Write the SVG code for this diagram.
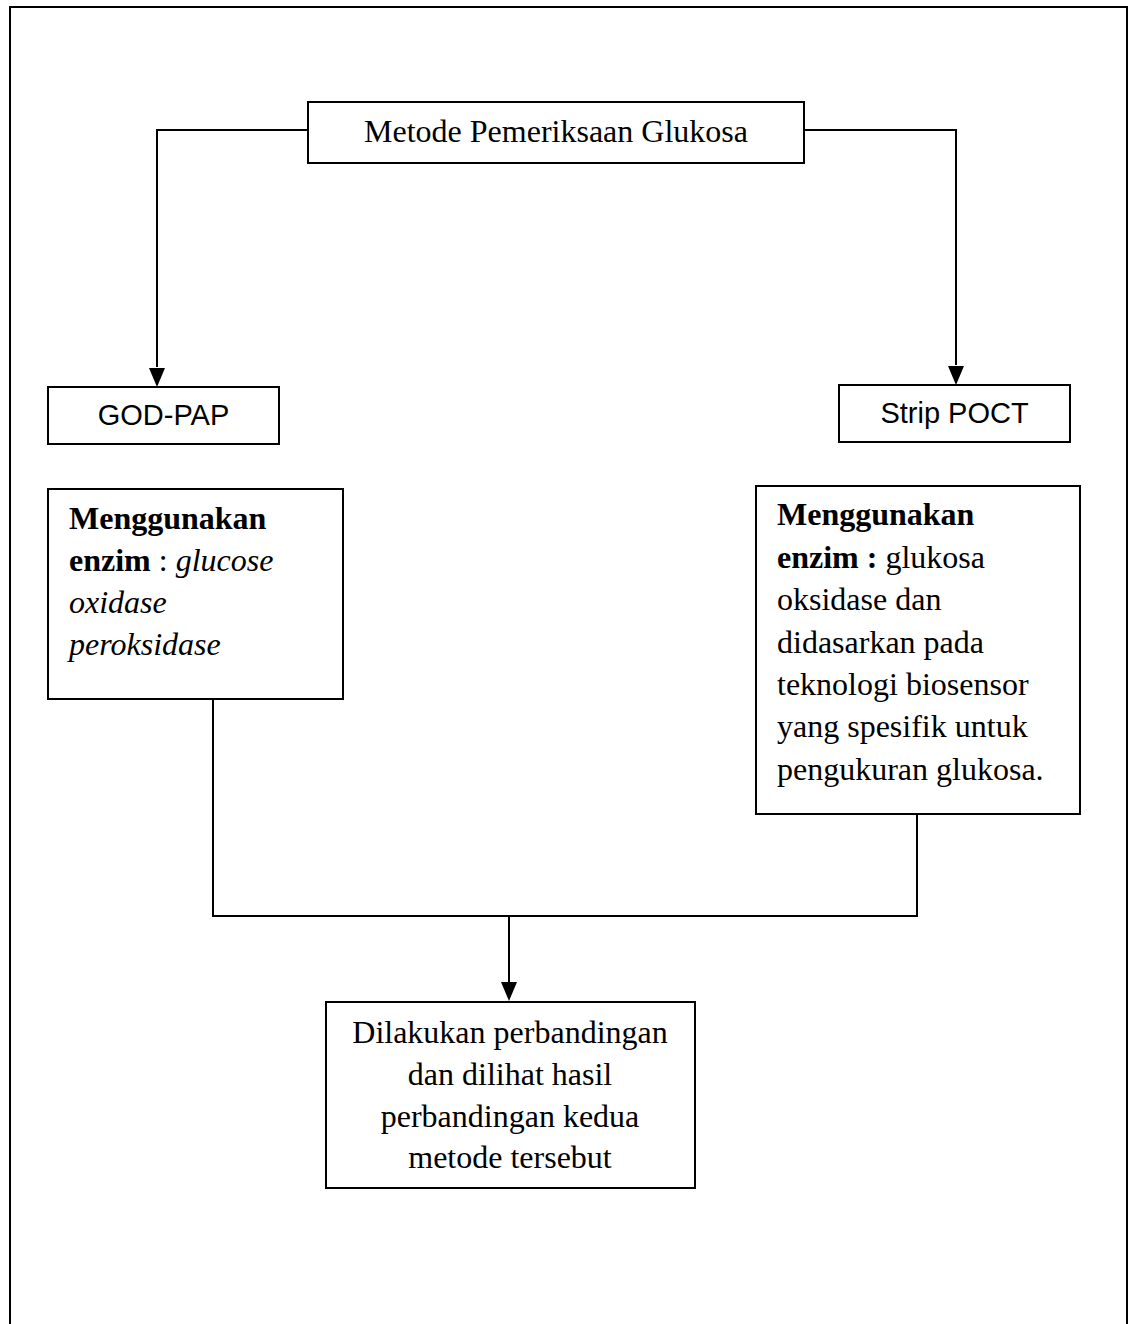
<svg xmlns="http://www.w3.org/2000/svg" width="1130" height="1324" viewBox="0 0 1130 1324">
<style>
.box{fill:#fff;stroke:#000;stroke-width:2}
.ln{fill:none;stroke:#000;stroke-width:2}
.tnr{font-family:"Liberation Serif","Times New Roman",serif;font-size:32px;fill:#000}
.ar{font-family:"Liberation Sans",Arial,sans-serif;font-size:29px;fill:#000}
</style>
<defs>
<marker id="ah" markerUnits="userSpaceOnUse" markerWidth="16" markerHeight="20" viewBox="0 0 16 20" refX="8" refY="20" orient="auto-start-reverse">
<path d="M0,0 L16,0 L8,20 Z" fill="#000" transform="rotate(0)"/>
</marker>
</defs>
<rect width="1130" height="1324" fill="#fff"/>
<path class="ln" d="M10,1330 V7 H1127 V1330"/>
<g id="connectors">
<path class="ln" d="M308,130 H157 V367"/>
<polygon points="149,368 165,368 157,387" fill="#000"/>
<path class="ln" d="M804,130 H956 V365"/>
<polygon points="948,366 964,366 956,385" fill="#000"/>
<path class="ln" d="M213,699 V916 H917 V814"/>
<path class="ln" d="M509,916 V982"/>
<polygon points="501,982 517,982 509,1001" fill="#000"/>
</g>
<g id="title">
<rect class="box" x="308" y="102" width="496" height="61"/>
<text class="tnr" x="556" y="142" text-anchor="middle">Metode Pemeriksaan Glukosa</text>
</g>
<g id="godpap">
<rect class="box" x="48" y="387" width="231" height="57"/>
<text class="ar" x="163.5" y="425" text-anchor="middle">GOD-PAP</text>
</g>
<g id="strip">
<rect class="box" x="839" y="385" width="231" height="57"/>
<text class="ar" x="954.5" y="423" text-anchor="middle">Strip POCT</text>
</g>
<g id="godpap-desc">
<rect class="box" x="48" y="489" width="295" height="210"/>
<text class="tnr" x="69" y="529" font-weight="bold">Menggunakan</text>
<text class="tnr" x="69" y="571"><tspan font-weight="bold">enzim</tspan> : <tspan font-style="italic">glucose</tspan></text>
<text class="tnr" x="69" y="613" font-style="italic">oxidase</text>
<text class="tnr" x="69" y="655" font-style="italic">peroksidase</text>
</g>
<g id="strip-desc">
<rect class="box" x="756" y="486" width="324" height="328"/>
<text class="tnr" x="777" y="525" font-weight="bold">Menggunakan</text>
<text class="tnr" x="777" y="568"><tspan font-weight="bold">enzim :</tspan> glukosa</text>
<text class="tnr" x="777" y="610">oksidase dan</text>
<text class="tnr" x="777" y="653">didasarkan pada</text>
<text class="tnr" x="777" y="695">teknologi biosensor</text>
<text class="tnr" x="777" y="737">yang spesifik untuk</text>
<text class="tnr" x="777" y="780">pengukuran glukosa.</text>
</g>
<g id="result">
<rect class="box" x="326" y="1002" width="369" height="186"/>
<text class="tnr" x="510" y="1043" text-anchor="middle">Dilakukan perbandingan</text>
<text class="tnr" x="510" y="1085" text-anchor="middle">dan dilihat hasil</text>
<text class="tnr" x="510" y="1127" text-anchor="middle">perbandingan kedua</text>
<text class="tnr" x="510" y="1168" text-anchor="middle">metode tersebut</text>
</g>
</svg>
